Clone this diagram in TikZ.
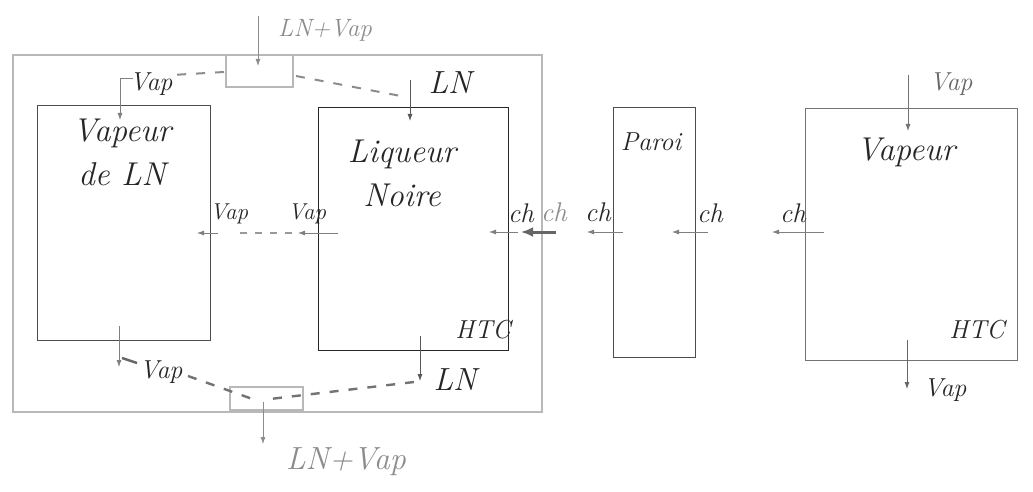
\documentclass[tikz,border=0pt]{standalone}
\usepackage{fontspec}
\usetikzlibrary{arrows.meta}
\tikzset{
  faint/.style={draw=black!28, line width=1.4pt, rectangle, inner sep=0pt, outer sep=0pt},
  box/.style={draw=black!70, line width=0.9pt, rectangle, inner sep=0pt, outer sep=0pt},
  flow/.style={draw=black!65, line width=0.8pt, -{Latex[length=7pt,width=5pt]}},
  boldflow/.style={draw=black!60, line width=3pt, -{Latex[length=12pt,width=10pt]}},
  dflow/.style={draw=black!55, line width=2.4pt, dash pattern=on 9pt off 10pt},
  lab/.style={font=\fontsize{26}{28}\selectfont\itshape, text=black!85, inner sep=0pt},
  lnlab/.style={lab, font=\fontsize{32}{34}\selectfont\itshape},
  chlab/.style={lab, font=\fontsize{27}{29}\selectfont\itshape},
  smalllab/.style={lab, font=\fontsize{23}{25}\selectfont\itshape},
  big/.style={font=\fontsize{33}{44}\selectfont\itshape, text=black!85, align=center, inner sep=0pt},
}
\begin{document}
\begin{tikzpicture}[x=1pt,y=-1pt]
\useasboundingbox (0,0) rectangle (1033,492);
\fill[white] (0,0) rectangle (1033,492);

% frames and boxes
\node[faint, minimum width=529pt, minimum height=357pt, anchor=north west] (frame) at (13,55) {};
\node[faint, minimum width=67pt, minimum height=32pt, anchor=north west] (mixtop) at (226,55) {};
\node[faint, minimum width=73pt, minimum height=23pt, anchor=north west] (mixbot) at (230,387) {};
\node[box, minimum width=173pt, minimum height=235pt, anchor=north west] (vdl) at (37,105) {};
\node[box, draw=black!85, minimum width=190pt, minimum height=243pt, anchor=north west] (ln) at (318,107) {};
\node[box, minimum width=82pt, minimum height=250pt, anchor=north west] (paroi) at (613,107) {};
\node[box, draw=black!55, minimum width=212pt, minimum height=252pt, anchor=north west] (vap) at (805,108) {};

% texts
\node[big] (tvdl) at (122,152) {Vapeur\\de LN};
\node[big] (tln) at (402,173) {Liqueur\\Noire};
\node[big] (tvap) at (906,152) {Vapeur};
\node[lab] (tparoi) at (651,142) {Paroi};
\node[lab] (htc1) at (483,330) {HTC};
\node[lab] (htc2) at (977,330) {HTC};
\node[lab, font=\fontsize{25}{27}\selectfont\itshape, text=black!45] (lnvtop) at (325,30) {LN+Vap};
\node[lab, font=\fontsize{32}{34}\selectfont\itshape, text=black!45] (lnvbot) at (346,462) {LN+Vap};
\node[lab] (vtl) at (151,84) {Vap};
\node[lnlab] (lntr) at (450,83) {LN};
\node[smalllab] (vml) at (229,214) {Vap};
\node[smalllab] (vmr) at (307,214) {Vap};
\node[chlab] (ch1) at (521,213) {ch};
\node[chlab, text=black!45] (ch2) at (554,212) {ch};
\node[chlab] (ch3) at (598,212) {ch};
\node[chlab] (ch4) at (710,213) {ch};
\node[chlab] (ch5) at (793,213) {ch};
\node[lab, text=black!60] (vrt) at (951,84) {Vap};
\node[lab] (vrb) at (945,390) {Vap};
\node[lab] (vbl) at (161,372) {Vap};
\node[lnlab] (lnbr) at (455,380) {LN};

% coordinates
\coordinate (t0) at (258,16);   \coordinate (t1) at (258,66);
\coordinate (tl1) at (224,72);  \coordinate (tl2) at (172,75);
\coordinate (tl3) at (133,78);  \coordinate (tl4) at (120,78);  \coordinate (tl5) at (120,120);
\coordinate (tr1) at (296,76);  \coordinate (tr2) at (406,97);
\coordinate (tr3) at (410,80);  \coordinate (tr4) at (410,121);
\coordinate (m1) at (218,233);  \coordinate (m2) at (197,233);
\coordinate (m3) at (240,233);  \coordinate (m4) at (296,233);
\coordinate (m5) at (338,233);  \coordinate (m6) at (298,233);
\coordinate (c1) at (518,232);  \coordinate (c2) at (489,232);
\coordinate (c3) at (556,232);  \coordinate (c4) at (521,232);
\coordinate (c5) at (623,232);  \coordinate (c6) at (587,232);
\coordinate (c7) at (708,232);  \coordinate (c8) at (672,232);
\coordinate (c9) at (824,232);  \coordinate (c10) at (772,232);
\coordinate (r1) at (908,75);   \coordinate (r2) at (908,131);
\coordinate (r3) at (907,340);  \coordinate (r4) at (907,389);
\coordinate (b1) at (119,326);  \coordinate (b2) at (119,367);
\coordinate (b3) at (122,358);  \coordinate (b4) at (137,363);
\coordinate (b5) at (188,376);  \coordinate (b6) at (258,401);
\coordinate (b7) at (420,336);  \coordinate (b8) at (420,381);
\coordinate (b9) at (414,382);  \coordinate (b10) at (270,399);
\coordinate (o1) at (263,402);  \coordinate (o2) at (263,444);

% top mixing
\draw[flow, draw=black!45] (t0) -- (t1);
\draw[dflow, draw=black!45, line width=2pt] (tl1) -- (tl2);
\draw[flow, draw=black!50] (tl3) -- (tl4) -- (tl5);
\draw[dflow, draw=black!45, line width=2pt] (tr1) -- (tr2);
\draw[flow] (tr3) -- (tr4);

% vapour between the two volumes
\draw[flow, draw=black!50] (m1) -- (m2);
\draw[dflow, draw=black!40, line width=2pt, dash pattern=on 7pt off 8pt] (m3) -- (m4);
\draw[flow, draw=black!50] (m5) -- (m6);

% heat
\draw[flow, draw=black!50] (c1) -- (c2);
\draw[boldflow] (c3) -- (c4);
\draw[flow, draw=black!50] (c5) -- (c6);
\draw[flow, draw=black!50] (c7) -- (c8);
\draw[flow, draw=black!50] (c9) -- (c10);

% right vapour volume
\draw[flow, draw=black!55] (r1) -- (r2);
\draw[flow, draw=black!60] (r3) -- (r4);

% bottom mixing
\draw[flow, draw=black!50] (b1) -- (b2);
\draw[draw=black!60, line width=2.4pt] (b3) -- (b4);
\draw[dflow] (b5) -- (b6);
\draw[flow] (b7) -- (b8);
\draw[dflow] (b9) -- (b10);
\draw[flow, draw=black!45] (o1) -- (o2);
\end{tikzpicture}
\end{document}
